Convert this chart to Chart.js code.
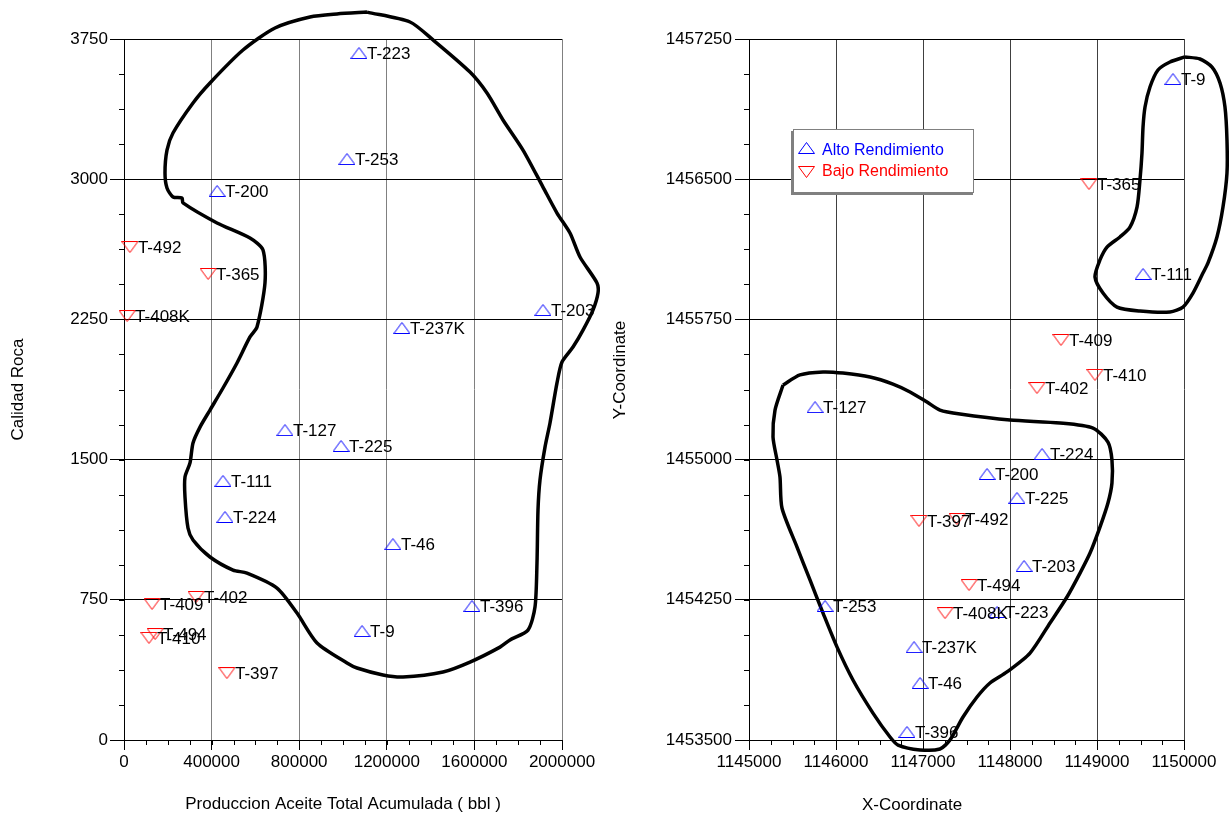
<!DOCTYPE html>
<html>
<head>
<meta charset="utf-8">
<script src="https://cdn.jsdelivr.net/npm/chart.js@4.4.1/dist/chart.umd.min.js"></script>
<style>
  html, body { margin: 0; padding: 0; background: #fff; }
  body { width: 1229px; height: 816px; position: relative; overflow: hidden; }
  #chart-produccion { position: absolute; left: 0; top: 0; }
  #chart-coordenadas { position: absolute; left: 600px; top: 0; }
</style>
</head>
<body>
<canvas id="chart-produccion" width="600" height="816"></canvas>
<canvas id="chart-coordenadas" width="629" height="816"></canvas>
<script>
// Pozos de alto rendimiento
const pozosAlto = ['T-223', 'T-253', 'T-200', 'T-203', 'T-237K', 'T-127', 'T-225', 'T-111', 'T-224', 'T-46', 'T-396', 'T-9'];
const produccionAlto = [1073000, 1018000, 425000, 1913000, 1269000, 735000, 991000, 452000, 461000, 1228000, 1589000, 1087000];
const calidadAlto = [3675, 3108, 2937, 2300, 2204, 1658, 1573, 1386, 1193, 1048, 717, 583];
const coordXAlto = [1147851, 1145874, 1147736, 1148161, 1146897, 1145759, 1148080, 1149529, 1148368, 1146966, 1146816, 1149873];
const coordYAlto = [1454185, 1454217, 1454923, 1454431, 1453997, 1455281, 1454795, 1455993, 1455030, 1453805, 1453543, 1457036];

// Pozos de bajo rendimiento
const pozosBajo = ['T-492', 'T-365', 'T-408K', 'T-409', 'T-402', 'T-494', 'T-410', 'T-397'];
const produccionBajo = [27000, 384000, 14000, 128000, 329000, 142000, 114000, 470000];
const calidadBajo = [2637, 2493, 2268, 728, 765, 567, 546, 358];
const coordXBajo = [1147391, 1148908, 1147253, 1148586, 1148310, 1147529, 1148977, 1146954];
const coordYBajo = [1454682, 1456474, 1454179, 1455640, 1455383, 1454329, 1455453, 1454672];

// Contorno (grafico produccion vs calidad)
const contornoProdX = [1109600, 1305900, 1411000, 1579900, 1657500, 1730600, 1821900, 1913200, 1977200, 2036500, 2082200, 2159800, 2164400, 2141500, 2095900, 2050200, 2000000, 1977200, 1945200, 1922400, 1899500, 1890400, 1885800, 1876700, 1844700, 1762600, 1716900, 1579900, 1456600, 1274000, 1182600, 1063900, 1018300, 881300, 790000, 698600, 561600, 497700, 392700, 315100, 292200, 278500, 278500, 301400, 315100, 347000, 392700, 452100, 516000, 575300, 607300, 643800, 634700, 575300, 424700, 269400, 264800, 223700, 196300, 187200, 196300, 223700, 315100, 392700, 543400, 689500, 849300, 972600];
const contornoProdY = [3894, 3841, 3745, 3573, 3461, 3317, 3156, 2958, 2819, 2712, 2584, 2445, 2391, 2300, 2193, 2102, 2022, 1910, 1696, 1567, 1391, 1230, 947, 711, 588, 535, 497, 417, 364, 337, 348, 385, 412, 519, 679, 813, 893, 909, 979, 1070, 1134, 1300, 1407, 1482, 1589, 1674, 1765, 1883, 2017, 2156, 2209, 2445, 2621, 2685, 2766, 2873, 2899, 2905, 2953, 3033, 3156, 3247, 3408, 3515, 3691, 3809, 3868, 3884];

// Contornos en el mapa (X-Y)
const contornoSurX = [1145391, 1145586, 1145851, 1146080, 1146391, 1146655, 1146851, 1147046, 1147195, 1147425, 1148000, 1148575, 1148954, 1149126, 1149172, 1149172, 1149126, 1149034, 1148920, 1148805, 1148655, 1148460, 1148230, 1147965, 1147770, 1147621, 1147460, 1147310, 1147195, 1146965, 1146713, 1146621, 1146425, 1146195, 1146011, 1145851, 1145701, 1145552, 1145379, 1145356, 1145322, 1145276, 1145299];
const contornoSurY = [1455399, 1455453, 1455469, 1455463, 1455442, 1455404, 1455362, 1455308, 1455265, 1455244, 1455212, 1455196, 1455169, 1455094, 1454998, 1454875, 1454768, 1454639, 1454500, 1454393, 1454265, 1454126, 1453965, 1453864, 1453805, 1453730, 1453623, 1453500, 1453452, 1453447, 1453473, 1453516, 1453644, 1453821, 1453998, 1454179, 1454356, 1454532, 1454741, 1454907, 1454998, 1455121, 1455265];
const contornoNorteX = [1150011, 1149839, 1149701, 1149609, 1149552, 1149529, 1149517, 1149494, 1149460, 1149379, 1149264, 1149115, 1149034, 1148977, 1149069, 1149230, 1149494, 1149839, 1149988, 1150103, 1150218, 1150276, 1150379, 1150448, 1150494, 1150494, 1150471, 1150414, 1150322, 1150184];
const contornoNorteY = [1457154, 1457127, 1457084, 1456993, 1456886, 1456779, 1456640, 1456496, 1456351, 1456244, 1456191, 1456137, 1456068, 1455977, 1455891, 1455816, 1455795, 1455790, 1455816, 1455891, 1455998, 1456052, 1456191, 1456351, 1456533, 1456710, 1456886, 1457015, 1457100, 1457143];

const FUENTE = '"Liberation Sans", Arial, sans-serif';
Chart.defaults.font.family = FUENTE;
Chart.defaults.color = '#000';

// Marcadores triangulares (no equilateros, como en el original)
function crearTriangulo(color, haciaArriba) {
  const c = document.createElement('canvas');
  c.width = 17; c.height = 12;
  const ctx = c.getContext('2d');
  ctx.strokeStyle = color;
  ctx.lineWidth = 1;
  ctx.beginPath();
  if (haciaArriba) {
    ctx.moveTo(8.5, 0.5); ctx.lineTo(16.5, 11.5); ctx.lineTo(0.5, 11.5);
  } else {
    ctx.moveTo(0.5, 0.5); ctx.lineTo(16.5, 0.5); ctx.lineTo(8.5, 11.5);
  }
  ctx.closePath();
  ctx.stroke();
  return c;
}
const trianguloAzul = crearTriangulo('#0000ff', true);
const trianguloRojo = crearTriangulo('#ff0000', false);

const puntos = (xs, ys) => xs.map((x, i) => ({ x: x, y: ys[i] }));
const cerrado = (xs, ys) => { const p = puntos(xs, ys); p.push(p[0]); return p; };

function serieMarcadores(nombres, xs, ys, estilo) {
  return {
    data: puntos(xs, ys),
    nombres: nombres,
    pointStyle: estilo,
    pointRadius: 8,
    showLine: false,
    clip: false
  };
}
function serieContorno(xs, ys) {
  return {
    data: cerrado(xs, ys),
    showLine: true,
    borderColor: '#000',
    borderWidth: 3.5,
    pointRadius: 0,
    tension: 0.25,
    clip: false
  };
}

// Nombres de los pozos a la derecha del marcador
const etiquetasPozos = {
  id: 'etiquetasPozos',
  afterDatasetsDraw(chart) {
    const ctx = chart.ctx;
    ctx.save();
    ctx.font = '17px ' + FUENTE;
    ctx.fillStyle = '#000';
    ctx.textBaseline = 'middle';
    chart.data.datasets.forEach((ds, i) => {
      if (!ds.nombres) return;
      chart.getDatasetMeta(i).data.forEach((pt, j) => {
        ctx.fillText(ds.nombres[j], pt.x + 8, pt.y + 1);
      });
    });
    ctx.restore();
  }
};

// Marcas secundarias en los ejes
const marcasMenores = {
  id: 'marcasMenores',
  afterDraw(chart, args, opts) {
    const { ctx, scales: { x, y } } = chart;
    ctx.save();
    ctx.strokeStyle = '#000';
    ctx.lineWidth = 1;
    ctx.beginPath();
    for (let v = x.min; v <= x.max; v += opts.pasoX) {
      const px = Math.round(x.getPixelForValue(v)) + 0.5;
      ctx.moveTo(px, y.bottom); ctx.lineTo(px, y.bottom + 5);
    }
    for (let v = y.min; v <= y.max; v += opts.pasoY) {
      const py = Math.round(y.getPixelForValue(v)) + 0.5;
      ctx.moveTo(x.left - 5, py); ctx.lineTo(x.left, py);
    }
    ctx.stroke();
    ctx.restore();
  }
};

// Titulos de ejes y leyenda del mapa (posiciones libres)
const extrasMapa = {
  id: 'extrasMapa',
  afterDraw(chart) {
    const ctx = chart.ctx;
    ctx.save();
    ctx.font = '17px ' + FUENTE;
    ctx.fillStyle = '#000';
    ctx.textAlign = 'center';
    ctx.textBaseline = 'middle';
    ctx.fillText('X-Coordinate', 312, 805);
    ctx.translate(20, 370);
    ctx.rotate(-Math.PI / 2);
    ctx.fillText('Y-Coordinate', 0, 0);
    ctx.restore();

    // leyenda
    ctx.save();
    ctx.fillStyle = '#808080';
    ctx.fillRect(191, 131, 182, 64);
    ctx.fillStyle = '#fff';
    ctx.fillRect(193, 129, 181, 64);
    ctx.strokeStyle = '#808080';
    ctx.lineWidth = 1;
    ctx.strokeRect(193.5, 129.5, 180, 63);
    ctx.drawImage(trianguloAzul, 198, 142);
    ctx.drawImage(trianguloRojo, 198, 166);
    ctx.font = '16px ' + FUENTE;
    ctx.textBaseline = 'middle';
    ctx.fillStyle = '#0000ff';
    ctx.fillText('Alto Rendimiento', 222, 151);
    ctx.fillStyle = '#ff0000';
    ctx.fillText('Bajo Rendimiento', 222, 172);
    ctx.restore();
  }
};

const sinSeparador = v => String(v);

// 1. Produccion acumulada vs calidad de roca
new Chart(document.getElementById('chart-produccion'), {
  type: 'scatter',
  data: {
    datasets: [
      serieMarcadores(pozosAlto, produccionAlto, calidadAlto, trianguloAzul),
      serieMarcadores(pozosBajo, produccionBajo, calidadBajo, trianguloRojo),
      serieContorno(contornoProdX, contornoProdY)
    ]
  },
  options: {
    responsive: false,
    animation: false,
    devicePixelRatio: 1,
    layout: { padding: { top: 39, right: 38, bottom: 0, left: 0 } },
    plugins: {
      legend: { display: false },
      tooltip: { enabled: false },
      marcasMenores: { pasoX: 100000, pasoY: 187.5 }
    },
    scales: {
      x: {
        min: 0, max: 2000000,
        afterFit: s => { s.height = 76; },
        ticks: { stepSize: 400000, callback: sinSeparador, font: { size: 17 }, padding: 2, maxRotation: 0 },
        grid: { color: '#808080', tickColor: '#000', tickLength: 10 },
        border: { color: '#000' },
        title: { display: true, text: 'Produccion Aceite Total Acumulada ( bbl )', font: { size: 17 }, padding: { top: 0, bottom: 1 } }
      },
      y: {
        min: 0, max: 3750,
        afterFit: s => { s.width = 124; },
        ticks: { stepSize: 750, callback: sinSeparador, font: { size: 17 }, padding: 2 },
        grid: { color: '#000', tickColor: '#000', tickLength: 14 },
        border: { color: '#000' },
        title: { display: true, text: 'Calidad Roca', font: { size: 17 }, padding: { top: 8, bottom: 0 } }
      }
    }
  },
  plugins: [etiquetasPozos, marcasMenores]
});

// 2. Mapa de coordenadas
new Chart(document.getElementById('chart-coordenadas'), {
  type: 'scatter',
  data: {
    datasets: [
      serieMarcadores(pozosAlto, coordXAlto, coordYAlto, trianguloAzul),
      serieMarcadores(pozosBajo, coordXBajo, coordYBajo, trianguloRojo),
      serieContorno(contornoSurX, contornoSurY),
      serieContorno(contornoNorteX, contornoNorteY)
    ]
  },
  options: {
    responsive: false,
    animation: false,
    devicePixelRatio: 1,
    layout: { padding: { top: 39, right: 45, bottom: 0, left: 0 } },
    plugins: {
      legend: { display: false },
      tooltip: { enabled: false },
      marcasMenores: { pasoX: 250, pasoY: 187.5 }
    },
    scales: {
      x: {
        min: 1145000, max: 1150000,
        afterFit: s => { s.height = 76; },
        ticks: { stepSize: 1000, callback: sinSeparador, font: { size: 17 }, padding: 2, maxRotation: 0 },
        grid: { color: '#404040', tickColor: '#000', tickLength: 10 },
        border: { color: '#000' }
      },
      y: {
        min: 1453500, max: 1457250,
        afterFit: s => { s.width = 149; },
        ticks: { stepSize: 750, callback: sinSeparador, font: { size: 17 }, padding: 3 },
        grid: { color: '#000', tickColor: '#000', tickLength: 14 },
        border: { color: '#000' }
      }
    }
  },
  plugins: [etiquetasPozos, marcasMenores, extrasMapa]
});
</script>
</body>
</html>
